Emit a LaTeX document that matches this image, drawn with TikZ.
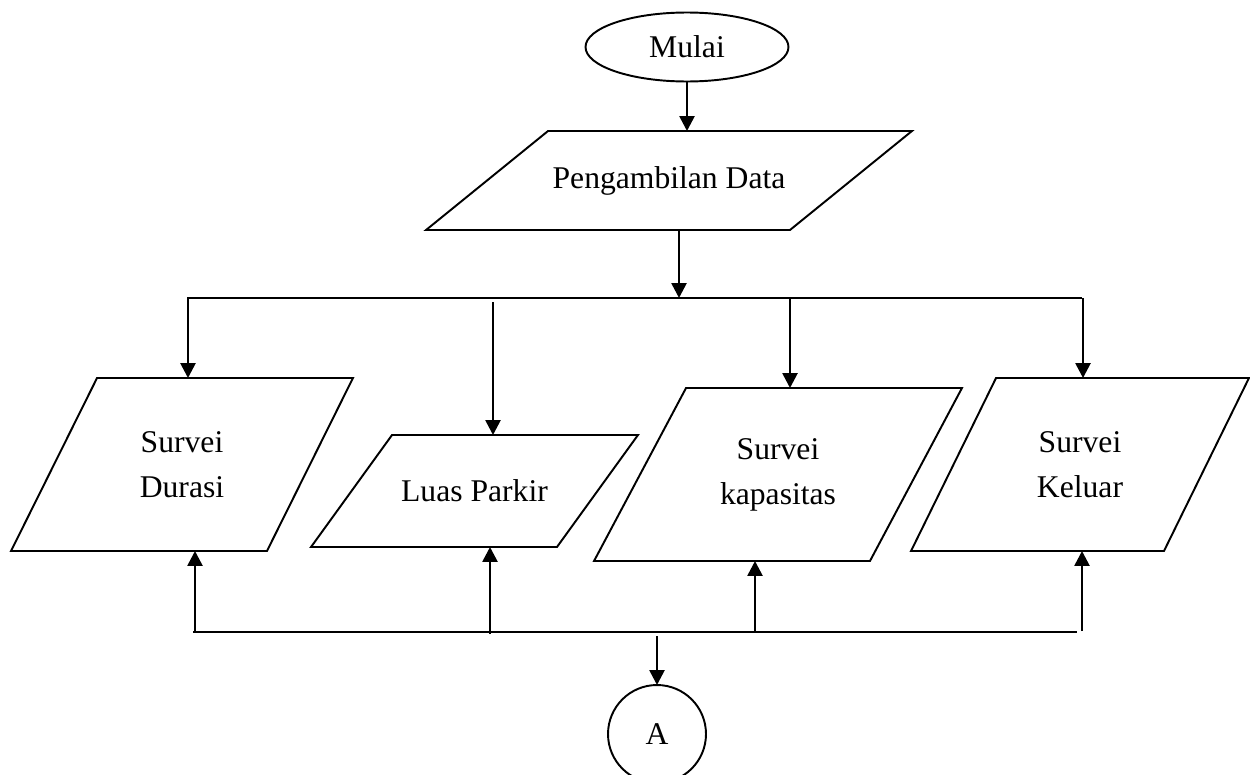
\documentclass[tikz,border=0pt]{standalone}
\usepackage{fontspec}
\setmainfont{Liberation Serif}
\usetikzlibrary{shapes.geometric,arrows.meta}

\begin{document}
\begin{tikzpicture}[x=0.02cm,y=-0.02cm,
        every node/.style={font=\fontsize{18}{25.5}\selectfont, align=center, inner sep=0pt, outer sep=0pt},
        datbox/.style={rectangle, append after command={\pgfextra{\let\parnode=\tikzlastnode
            \draw[line width=1.1pt] ([xshift=#1]\parnode.north west) -- ([xshift=#1]\parnode.north east)
                -- ([xshift=-#1]\parnode.south east) -- ([xshift=-#1]\parnode.south west) -- cycle;}}},
        arr/.style={line width=1.5pt, -{Triangle[length=0.3cm,width=0.3cm]}},
        bus/.style={line width=1.5pt}]
                \useasboundingbox (0,0) rectangle (1250,774);
                \node[ellipse, draw, line width=1.1pt, minimum width=4.06cm, minimum height=1.38cm] (mulai) at (687,47) {Mulai};
                \node[datbox=1.22cm, minimum width=7.28cm, minimum height=1.98cm] (ambil) at (669,180.5) {Pengambilan Data};
                \node[datbox=0.86cm, minimum width=5.12cm, minimum height=3.46cm] (durasi) at (182,464.5) {Survei\\Durasi};
                \node[datbox=0.81cm, minimum width=4.92cm, minimum height=2.24cm] (luas) at (474.5,491) {Luas Parkir};
                \node[datbox=0.92cm, minimum width=5.52cm, minimum height=3.46cm] (kapasitas) at (778,474.5) {Survei\\kapasitas};
                \node[datbox=0.85cm, minimum width=5.06cm, minimum height=3.46cm] (keluar) at (1080,464.5) {Survei\\Keluar};
                \node[circle, draw, line width=1.1pt, minimum size=1.96cm] (A) at (657,734) {A};
                \coordinate (tl) at (187,298);
                \coordinate (tr) at (1082,298);
                \coordinate (bl) at (193,632);
                \coordinate (br) at (1077,632);
                \draw[bus] (tl) -- (tr);
                \draw[bus] (bl) -- (br);
                \draw[arr] (mulai.south) -- (mulai.south |- ambil.north);
                \coordinate (p0) at (679,298);
                \draw[arr] (p0 |- ambil.south) -- (p0);
                \coordinate (p1) at (188,298);
                \coordinate (p2) at (493,302);
                \coordinate (p3) at (790,297);
                \coordinate (p4) at (1083,298);
                \draw[arr] (p1) -- (p1 |- durasi.north);
                \draw[arr] (p2) -- (p2 |- luas.north);
                \draw[arr] (p3) -- (p3 |- kapasitas.north);
                \draw[arr] (p4) -- (p4 |- keluar.north);
                \coordinate (q1) at (195,632);
                \coordinate (q2) at (490,634);
                \coordinate (q3) at (755,632);
                \coordinate (q4) at (1082,631);
                \draw[arr] (q1) -- (q1 |- durasi.south);
                \draw[arr] (q2) -- (q2 |- luas.south);
                \draw[arr] (q3) -- (q3 |- kapasitas.south);
                \draw[arr] (q4) -- (q4 |- keluar.south);
                \coordinate (q0) at (657,636);
                \draw[arr] (q0) -- (A.north);
            \end{tikzpicture}
\end{document}
